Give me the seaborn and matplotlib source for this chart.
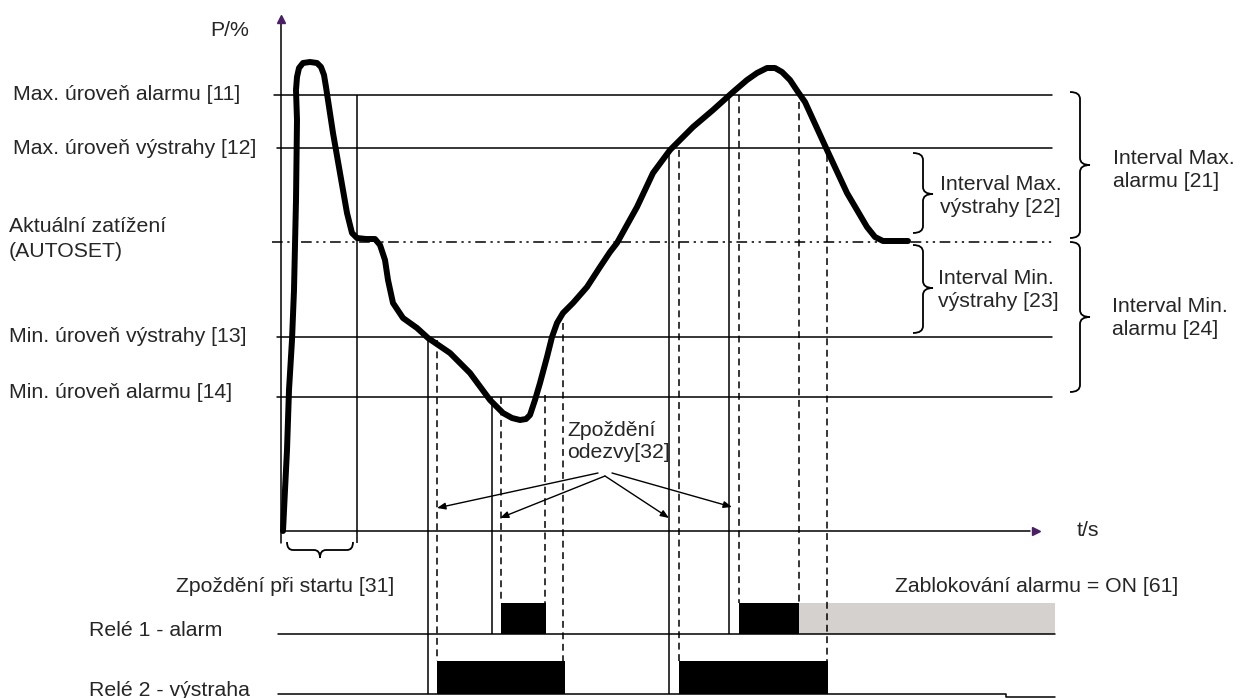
import matplotlib
matplotlib.use("Agg")
import matplotlib.pyplot as plt
import seaborn as sns
from matplotlib.path import Path
from matplotlib.patches import PathPatch

# load curve P/% over time, in picture units (x to the right, y downwards)
curve_t = [283, 285, 287, 289, 292, 294, 296, 297, 296, 297,
           299, 303, 310, 317, 321, 324, 326, 333, 340, 347,
           352, 357, 366, 375, 380, 385, 388, 393, 403, 417,
           428, 450, 470, 490, 503, 512, 520, 526, 530, 535,
           540, 547, 552, 557, 563, 573, 587, 600, 610, 617,
           637, 653, 670, 693, 713, 733, 747, 757, 767, 775,
           782, 790, 798, 805, 827, 847, 867, 875, 883, 908]
curve_p = [531, 490, 450, 390, 340, 290, 200, 120, 90, 77,
           68, 63, 62, 63, 67, 75, 87, 133, 173, 213,
           233, 238, 239, 239, 245, 260, 280, 303, 318, 328,
           338, 353, 373, 400, 413, 418, 420, 419, 415, 400,
           383, 357, 337, 323, 313, 303, 287, 267, 252, 243,
           207, 173, 150, 127, 110, 92, 80, 73, 68, 68,
           72, 80, 92, 102, 150, 193, 227, 237, 241, 241]

level_names = ["Max. úroveň alarmu [11]", "Max. úroveň výstrahy [12]",
               "Aktuální zatížení\n(AUTOSET)", "Min. úroveň výstrahy [13]",
               "Min. úroveň alarmu [14]"]
level_y = [95, 148, 242, 337, 397]
level_start = [274, 277, 272, 277, 277]
level_label_y = [95, 148, 239, 337, 393]

# threshold crossings (solid) and the same instants after response delay (dashed)
cross_x = [357, 428, 492, 669, 729]
cross_top = [95, 337, 397, 148, 95]
cross_bottom = [543, 694, 634, 694, 634]
delay_x = [437, 501, 545, 563, 679, 739, 799, 827]
delay_top = [340, 397, 395, 323, 150, 95, 102, 155]
delay_bottom = [661, 603, 603, 661, 661, 603, 603, 661]

relay_names = ["Relé 1 - alarm", "Relé 2 - výstraha"]
relay_base = [634, 694]
relay_top = [603, 661]
relay1_on = [(501, 546), (739, 799)]
relay1_blocked = [(799, 1055)]
relay2_on = [(437, 565), (679, 828)]

arrow_from = [(598, 473), (605, 476), (605, 476), (612, 473)]
arrow_to = [(437, 508), (500, 518), (669, 518), (732, 507)]

sns.set_style("white")
plt.rcParams["font.family"] = ["Liberation Sans", "DejaVu Sans"]
FS = 15.3
LW = 1.1

fig = plt.figure(figsize=(12.41, 6.98), dpi=100)
ax = fig.add_axes([0, 0, 1, 1])
ax.set_xlim(0, 1241)
ax.set_ylim(698, 0)
ax.axis("off")


def brace_v(x, y0, y1, ym, w=10, h=7):
    verts = [(x - w, y0), (x, y0), (x, y0 + h), (x, ym - h), (x, ym), (x + w, ym),
             (x, ym), (x, ym + h), (x, y1 - h), (x, y1), (x - w, y1)]
    codes = [Path.MOVETO, Path.CURVE3, Path.CURVE3, Path.LINETO, Path.CURVE3,
             Path.CURVE3, Path.CURVE3, Path.CURVE3, Path.LINETO, Path.CURVE3, Path.CURVE3]
    ax.add_patch(PathPatch(Path(verts, codes), fill=False, lw=1.3, color="black"))


def brace_h(y, x0, x1, xm, w=8, h=6):
    verts = [(x0, y - w), (x0, y), (x0 + h, y), (xm - h, y), (xm, y), (xm, y + w),
             (xm, y), (xm + h, y), (x1 - h, y), (x1, y), (x1, y - w)]
    codes = [Path.MOVETO, Path.CURVE3, Path.CURVE3, Path.LINETO, Path.CURVE3,
             Path.CURVE3, Path.CURVE3, Path.CURVE3, Path.LINETO, Path.CURVE3, Path.CURVE3]
    ax.add_patch(PathPatch(Path(verts, codes), fill=False, lw=1.3, color="black"))


# levels
for name, y, x0, ly in zip(level_names, level_y, level_start, level_label_y):
    style = (0, (7, 3, 1.5, 3, 1.5, 3)) if "AUTOSET" in name else "-"
    ax.plot([x0, 1052], [y, y], color="black", lw=LW, ls=style)
    ax.text(13 if "Max" in name else 9, ly, name, fontsize=FS, ha="left",
            va="center", linespacing=1.35)

# axes with arrow tips
ax.plot([281, 281], [543, 22], color="black", lw=LW)
ax.plot([281, 1030], [531, 531], color="black", lw=LW)
ax.plot([281], [19], marker="^", ms=6, color="#4b1f66")
ax.plot([1036], [531], marker=">", ms=6, color="#4b1f66")
ax.text(210, 30, "P/%", fontsize=FS, ha="left", va="center")
ax.text(1077, 531, "t/s", fontsize=FS, ha="left", va="center")

# switching instants
ax.vlines(cross_x, cross_top, cross_bottom, color="black", lw=LW)
ax.vlines(delay_x, delay_top, delay_bottom, color="black", lw=LW,
          linestyles=(0, (4.5, 3)))

# relays
for name, base, top in zip(relay_names, relay_base, relay_top):
    ax.text(89, base - 4, name, fontsize=FS, ha="left", va="center")
ax.plot([278, 1055], [relay_base[0]] * 2, color="black", lw=LW)
ax.plot([278, 1006, 1006, 1055], [relay_base[1], relay_base[1], 697, 697],
        color="black", lw=LW)
for a, b in relay1_blocked:
    ax.bar(a, relay_base[0] - relay_top[0], width=b - a, bottom=relay_top[0],
           align="edge", color="#d5d1ce", lw=0)
for a, b in relay1_on:
    ax.bar(a, relay_base[0] - relay_top[0], width=b - a, bottom=relay_top[0],
           align="edge", color="black", lw=0)
for a, b in relay2_on:
    ax.bar(a, relay_base[1] - relay_top[1], width=b - a, bottom=relay_top[1],
           align="edge", color="black", lw=0)

# load curve
sns.lineplot(x=curve_t, y=curve_p, sort=False, estimator=None, color="black",
             lw=4.3, ax=ax, solid_joinstyle="round", solid_capstyle="round")
ax.set_xlim(0, 1241)
ax.set_ylim(698, 0)

# response delay arrows
for p0, p1 in zip(arrow_from, arrow_to):
    ax.annotate("", xy=p1, xytext=p0,
                arrowprops=dict(arrowstyle="-|>,head_length=0.5,head_width=0.2",
                                lw=1.0, color="black", shrinkA=0, shrinkB=0))
ax.text(567, 442, "Zpoždění\nodezvy[32]", fontsize=FS, ha="left", va="center",
        linespacing=1.2)

# braces and interval labels
brace_v(923, 153, 233, 194)
brace_v(923, 245, 333, 288)
brace_v(1080, 92, 238, 165)
brace_v(1080, 242, 392, 317)
brace_h(550, 287, 353, 320)
for txt, x, y in [("Interval Max.\nvýstrahy [22]", 940, 196),
                  ("Interval Min.\nvýstrahy [23]", 938, 290),
                  ("Interval Max.\nalarmu [21]", 1113, 170),
                  ("Interval Min.\nalarmu [24]", 1112, 318)]:
    ax.text(x, y, txt, fontsize=FS, ha="left", va="center", linespacing=1.3)
ax.text(176, 587, "Zpoždění při startu [31]", fontsize=FS, ha="left", va="center")
ax.text(895, 586, "Zablokování alarmu = ON [61]", fontsize=FS, ha="left",
        va="center")

fig.savefig("out.png", dpi=100)
